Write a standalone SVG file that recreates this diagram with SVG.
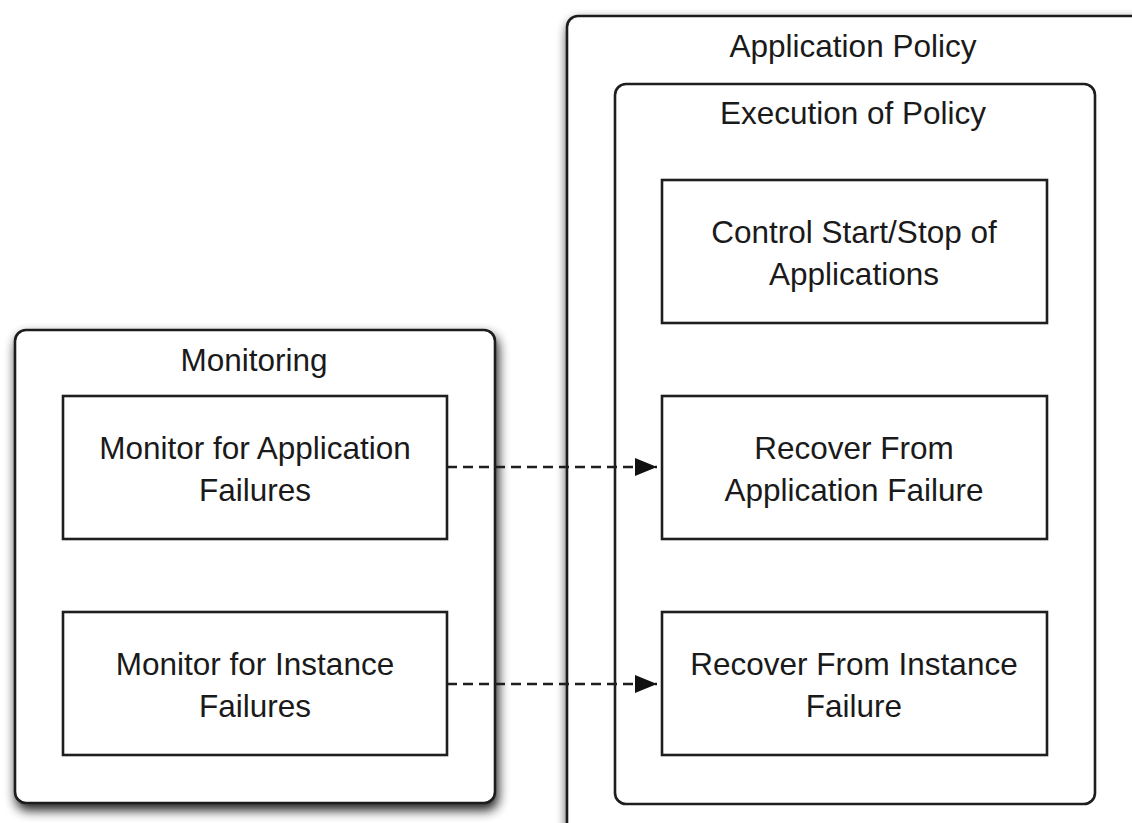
<svg xmlns="http://www.w3.org/2000/svg" width="1132" height="823" viewBox="0 0 1132 823">
  <style>
    .group { fill: #ffffff; stroke: #1e1e1e; stroke-width: 2.6; }
    .box { fill: #ffffff; stroke: #1e1e1e; stroke-width: 2.6; }
    .label { font-family: "Liberation Sans", Arial, sans-serif; font-size: 31.5px; fill: #1a1a1a; text-anchor: middle; }
    .link { fill: none; stroke: #1e1e1e; stroke-width: 2.6; stroke-dasharray: 10 6; }
  </style>
  <defs>
    <!-- soft drop shadow for the outer containers -->
    <filter id="shadow" x="-10%" y="-10%" width="120%" height="120%">
      <feGaussianBlur in="SourceAlpha" stdDeviation="6"/>
      <feOffset dx="2" dy="6" result="blur"/>
      <feComponentTransfer>
        <feFuncA type="linear" slope="0.9"/>
      </feComponentTransfer>
      <feMerge>
        <feMergeNode/>
        <feMergeNode in="SourceGraphic"/>
      </feMerge>
    </filter>
    <marker id="arrow" viewBox="0 0 10 10" refX="10" refY="5" markerUnits="userSpaceOnUse" markerWidth="22" markerHeight="18" orient="auto" preserveAspectRatio="none">
      <path d="M0,0 L10,5 L0,10 z" fill="#111111"/>
    </marker>
  </defs>

  <rect width="1132" height="823" fill="#ffffff"/>

  <!-- Application Policy container -->
  <g id="application-policy">
    <rect class="group" x="567" y="16" width="590" height="830" rx="11" filter="url(#shadow)"/>
    <text class="label" x="853" y="57">Application Policy</text>
  </g>

  <!-- Execution of Policy container -->
  <g id="execution-of-policy">
    <rect class="group" x="615" y="84" width="480" height="720" rx="11"/>
    <text class="label" x="853" y="124">Execution of Policy</text>
  </g>

  <g id="control-start-stop">
    <rect class="box" x="662" y="180" width="385" height="143"/>
    <text class="label" x="854" y="243">Control Start/Stop of</text>
    <text class="label" x="854" y="285">Applications</text>
  </g>

  <g id="recover-application">
    <rect class="box" x="662" y="396" width="385" height="143"/>
    <text class="label" x="854" y="459">Recover From</text>
    <text class="label" x="854" y="501">Application Failure</text>
  </g>

  <g id="recover-instance">
    <rect class="box" x="662" y="612" width="385" height="143"/>
    <text class="label" x="854" y="675">Recover From Instance</text>
    <text class="label" x="854" y="717">Failure</text>
  </g>

  <!-- Monitoring container -->
  <g id="monitoring">
    <rect class="group" x="15" y="330" width="480" height="473" rx="11" filter="url(#shadow)"/>
    <text class="label" x="254" y="371">Monitoring</text>
  </g>

  <g id="monitor-application">
    <rect class="box" x="63" y="396" width="384" height="143"/>
    <text class="label" x="255" y="459">Monitor for Application</text>
    <text class="label" x="255" y="501">Failures</text>
  </g>

  <g id="monitor-instance">
    <rect class="box" x="63" y="612" width="384" height="143"/>
    <text class="label" x="255" y="675">Monitor for Instance</text>
    <text class="label" x="255" y="717">Failures</text>
  </g>

  <!-- Connectors -->
  <g id="connectors">
    <line class="link" x1="447" y1="467" x2="657" y2="467" marker-end="url(#arrow)"/>
    <line class="link" x1="447" y1="684" x2="657" y2="684" marker-end="url(#arrow)"/>
  </g>
</svg>
